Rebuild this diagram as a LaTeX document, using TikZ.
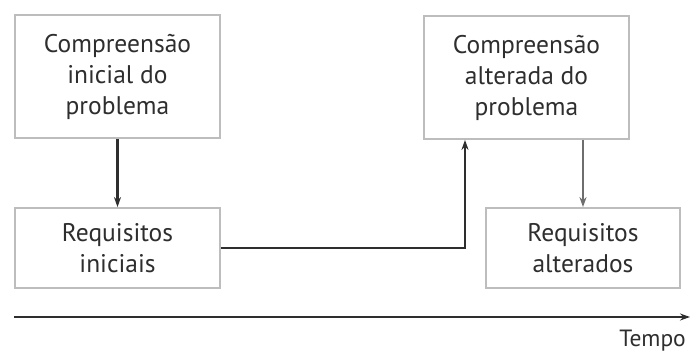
\documentclass[tikz,border=0pt]{standalone}
\usepackage{fontspec}
\setmainfont{PT Sans}
\usetikzlibrary{arrows.meta}
\definecolor{boxline}{HTML}{BDBDBD}
\definecolor{ink}{HTML}{2E2E2E}
\definecolor{greyink}{HTML}{6E6E6E}
\begin{document}
\begin{tikzpicture}[x=1pt,y=-1pt,
  box/.style={draw=boxline,line width=1.8pt,fill=white,align=center,
    inner sep=0pt,font=\fontsize{25.5}{31}\selectfont,text=ink},
  conn/.style={draw=ink,line width=2.2pt,-{Stealth[length=10pt,width=7pt]}}]
\useasboundingbox (0,0) rectangle (690,353);
% boxes
\node[box,minimum width=205pt,minimum height=123pt] (cip) at (117.5,76.5)
  {Compreensão\\inicial do\\problema};
\node[box,minimum width=205pt,minimum height=80pt] (ri) at (117.5,248)
  {Requisitos\\iniciais};
\node[box,minimum width=205pt,minimum height=123pt] (cap) at (526.5,77.5)
  {Compreensão\\alterada do\\problema};
\node[box,minimum width=194pt,minimum height=80pt] (ra) at (583,248)
  {Requisitos\\alterados};
% connectors
\draw[conn] (cip.south) -- (ri.north);
\draw[conn] (ri.east) -| (cap.south -| 465,0);
\draw[conn,draw=greyink] (cap.south -| ra.north) -- (ra.north);
% time axis
\coordinate (t0) at (14,317);
\coordinate (t1) at (690,317);
\draw[conn] (t0) -- (t1);
\node[anchor=north east,inner sep=0pt,font=\fontsize{23.5}{26}\selectfont,text=ink]
  (tempo) at (686,330) {Tempo};
\end{tikzpicture}
\end{document}
